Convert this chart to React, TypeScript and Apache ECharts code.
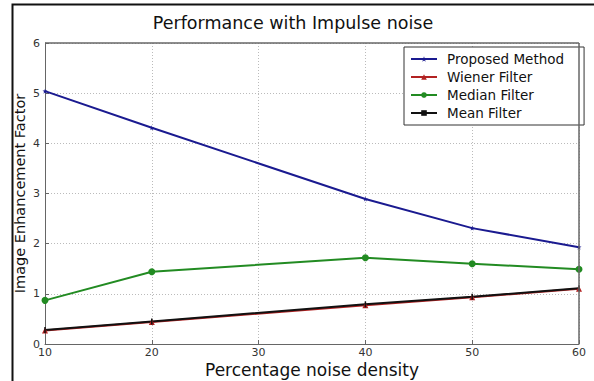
import React, { useEffect, useRef } from "react";
import * as echarts from "echarts";

const xValues = [10, 20, 40, 50, 60];
const proposed = [5.04, 4.31, 2.89, 2.31, 1.93];
const wiener = [0.27, 0.44, 0.77, 0.93, 1.1];
const median = [0.87, 1.44, 1.72, 1.6, 1.49];
const mean = [0.28, 0.45, 0.79, 0.94, 1.11];

const STAR =
  "path://M50,0 L61,35 L98,35 L68,57 L79,91 L50,70 L21,91 L32,57 L2,35 L39,35 Z";
const TICK = "path://M0,0 L2,0 L2,10 L0,10 Z";

export default function App() {
  const ref = useRef<HTMLDivElement>(null);
  useEffect(() => {
    if (!ref.current) return;
    const chart = echarts.init(ref.current, undefined, { renderer: "svg" });
    const pair = (arr: number[]) => xValues.map((x, i) => [x, arr[i]]);
    const font = "DejaVu Sans";
    chart.setOption({
      animation: false,
      backgroundColor: "#ffffff",
      title: {
        text: "Performance with Impulse noise",
        left: 288,
        textAlign: "center",
        top: 9,
        textStyle: { fontFamily: font, fontSize: 17.5, fontWeight: "normal", color: "#111" },
      },
      grid: { left: 45, top: 43, width: 534, height: 301, outerBoundsMode: "none", containLabel: false },
      legend: {
        orient: "vertical",
        left: 404,
        top: 47,
        itemWidth: 26,
        itemHeight: 7,
        itemGap: 4,
        padding: [5, 20, 5, 6],
        borderColor: "#333",
        borderWidth: 1,
        backgroundColor: "#fff",
        textStyle: { fontFamily: font, fontSize: 13.5, color: "#111", padding: [0, 0, 0, 5] },
        data: ["Proposed Method", "Wiener Filter", "Median Filter", "Mean Filter"],
      },
      xAxis: {
        type: "value",
        min: 10,
        max: 60,
        interval: 10,
        name: "Percentage noise density",
        nameLocation: "middle",
        nameGap: 17,
        nameMoveOverlap: false,
        nameTextStyle: { fontFamily: font, fontSize: 17, color: "#111" },
        axisLine: { show: true, lineStyle: { color: "#666", width: 1 } },
        axisTick: { inside: true, length: 4, lineStyle: { color: "#666" } },
        axisLabel: { fontFamily: font, fontSize: 11, color: "#333", margin: 3 },
        splitLine: { show: true, lineStyle: { color: "#bbb", type: [1, 2], width: 1 } },
      },
      yAxis: {
        type: "value",
        min: 0,
        max: 6,
        interval: 1,
        name: "Image Enhancement Factor",
        nameLocation: "middle",
        nameGap: 18,
        nameMoveOverlap: false,
        nameTextStyle: { fontFamily: font, fontSize: 14.5, color: "#111" },
        axisLine: { show: true, lineStyle: { color: "#666", width: 1 } },
        axisTick: { inside: true, length: 4, lineStyle: { color: "#666" } },
        axisLabel: { fontFamily: font, fontSize: 11, color: "#333", margin: 5 },
        splitLine: { show: true, lineStyle: { color: "#bbb", type: [1, 2], width: 1 } },
      },
      graphic: [
        {
          type: "rect",
          shape: { x: 12.5, y: 4.5, width: 700, height: 500 },
          style: { fill: "none", stroke: "#111", lineWidth: 2 },
          z: 100,
          silent: true,
        },
        {
          type: "rect",
          shape: { x: 579, y: 43, width: 0, height: 301 },
          style: { fill: "none", stroke: "#666", lineWidth: 1 },
          z: 5,
        },
        {
          type: "rect",
          shape: { x: 45, y: 43, width: 534, height: 0 },
          style: { fill: "none", stroke: "#666", lineWidth: 1 },
          z: 5,
        },
      ],
      series: [
        {
          name: "Proposed Method",
          type: "line",
          data: pair(proposed),
          color: "#2424c0",
          lineStyle: { width: 2 },
          symbol: STAR,
          symbolSize: 5,
          itemStyle: { color: "#1a1a90" },
        },
        {
          name: "Wiener Filter",
          type: "line",
          data: pair(wiener),
          color: "#b22222",
          lineStyle: { width: 2 },
          symbol: "triangle",
          symbolSize: 6,
        },
        {
          name: "Median Filter",
          type: "line",
          data: pair(median),
          color: "#228b22",
          lineStyle: { width: 2 },
          symbol: "circle",
          symbolSize: 7,
        },
        {
          name: "Mean Filter",
          type: "line",
          data: pair(mean),
          color: "#111111",
          lineStyle: { width: 2 },
          symbol: TICK,
          symbolSize: [1.5, 6],
        },
      ],
    });
    return () => chart.dispose();
  }, []);
  return (
    <div
      ref={ref}
      style={{ position: "fixed", left: 0, top: 0, width: 594, height: 381, background: "#fff" }}
    />
  );
}
